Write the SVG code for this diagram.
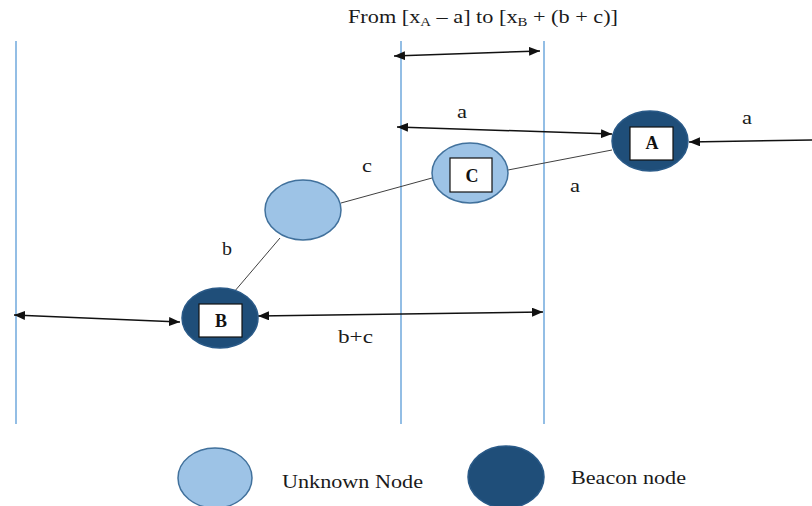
<svg xmlns="http://www.w3.org/2000/svg" width="812" height="506" viewBox="0 0 812 506">
  <style>
    .t { font-family: "Liberation Serif", "Times New Roman", serif; font-size: 18px; fill: #1a1a1a; }
    .lbl { font-family: "Liberation Serif", "Times New Roman", serif; font-size: 18px; font-weight: bold; fill: #111; text-anchor: middle; }
    .vline { stroke: #6FA8DC; stroke-width: 1.5; fill: none; }
    .arrow { stroke: #111; stroke-width: 1.5; fill: none; marker-end: url(#ah); }
    .darrow { stroke: #111; stroke-width: 1.5; fill: none; marker-start: url(#ah); marker-end: url(#ah); }
    .link { stroke: #404040; stroke-width: 1; fill: none; }
    .unknown { fill: #9DC3E6; stroke: #41719C; stroke-width: 1.5; }
    .beacon { fill: #1F4E79; stroke: #2A5A88; stroke-width: 1.5; }
    .box { fill: #fff; stroke: #111; stroke-width: 1.2; }
  </style>
  <defs>
    <marker id="ah" markerUnits="userSpaceOnUse" markerWidth="11" markerHeight="9" refX="11" refY="4.5" orient="auto-start-reverse">
      <path d="M0,0 L11,4.5 L0,9 z" fill="#111"/>
    </marker>
  </defs>
  <rect width="812" height="506" fill="#fff"/>

  <text class="t" x="348" y="23" textLength="270" lengthAdjust="spacingAndGlyphs">From [x<tspan font-size="12" dy="3">A</tspan><tspan dy="-3"> – a] to [x</tspan><tspan font-size="12" dy="3">B</tspan><tspan dy="-3"> + (b + c)]</tspan></text>

  <g id="guides">
    <line class="vline" x1="16" y1="41" x2="16" y2="424"/>
    <line class="vline" x1="401" y1="41" x2="401" y2="424"/>
    <line class="vline" x1="544" y1="41" x2="544" y2="424"/>
  </g>

  <g id="connectors">
    <line class="darrow" x1="394" y1="56" x2="540" y2="51"/>
    <line class="darrow" x1="397" y1="127" x2="612" y2="134"/>
    <line class="arrow" x1="812" y1="140" x2="689" y2="142"/>
    <line class="link" x1="612" y1="150" x2="508" y2="170"/>
    <line class="link" x1="432" y1="178" x2="341" y2="203"/>
    <line class="link" x1="280" y1="238" x2="234" y2="292"/>
    <line class="darrow" x1="14" y1="315" x2="180" y2="322"/>
    <line class="darrow" x1="258" y1="316" x2="543" y2="312"/>
    <text class="t" x="457" y="118" textLength="10" lengthAdjust="spacingAndGlyphs">a</text>
    <text class="t" x="742" y="124" textLength="10" lengthAdjust="spacingAndGlyphs">a</text>
    <text class="t" x="570" y="192" textLength="10" lengthAdjust="spacingAndGlyphs">a</text>
    <text class="t" x="362" y="172" textLength="10" lengthAdjust="spacingAndGlyphs">c</text>
    <text class="t" x="222" y="255" textLength="10" lengthAdjust="spacingAndGlyphs">b</text>
    <text class="t" x="338" y="343" textLength="35" lengthAdjust="spacingAndGlyphs">b+c</text>
  </g>

  <g id="node-A">
    <ellipse class="beacon" cx="650" cy="141" rx="38" ry="30"/>
    <rect class="box" x="630" y="127" width="43" height="33"/>
    <text class="lbl" x="652" y="149">A</text>
  </g>

  <g id="node-C">
    <ellipse class="unknown" cx="470" cy="173" rx="38" ry="30"/>
    <rect class="box" x="450" y="158" width="42" height="34"/>
    <text class="lbl" x="472" y="182">C</text>
  </g>

  <g id="node-unknown">
    <ellipse class="unknown" cx="303" cy="210" rx="38" ry="30"/>
  </g>

  <g id="node-B">
    <ellipse class="beacon" cx="220" cy="318" rx="38" ry="30"/>
    <rect class="box" x="199" y="304" width="43" height="33"/>
    <text class="lbl" x="221" y="327">B</text>
  </g>

  <g id="legend-unknown">
    <ellipse class="unknown" cx="215" cy="478" rx="37" ry="30"/>
    <text class="t" x="282" y="488" textLength="141" lengthAdjust="spacingAndGlyphs">Unknown Node</text>
  </g>

  <g id="legend-beacon">
    <ellipse class="beacon" cx="506" cy="477" rx="38" ry="31"/>
    <text class="t" x="571" y="484" textLength="115" lengthAdjust="spacingAndGlyphs">Beacon node</text>
  </g>
</svg>
